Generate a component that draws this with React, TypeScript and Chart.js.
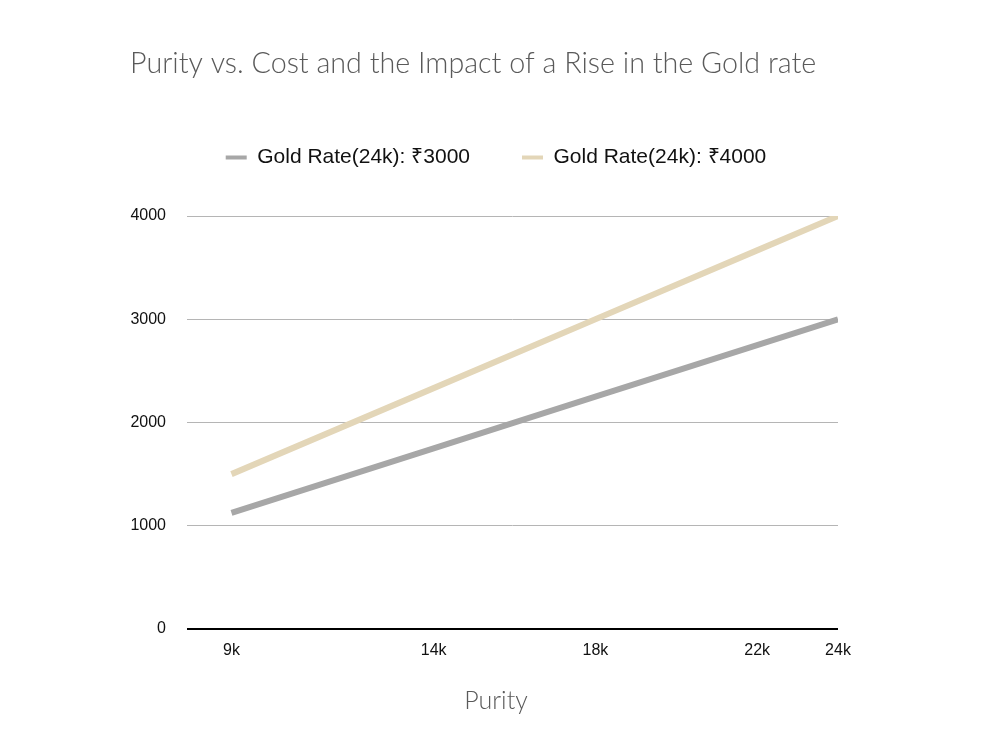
import React, { useEffect, useRef } from "react";
import { Chart, registerables } from "chart.js";

Chart.register(...registerables);

const purity = [9, 14, 18, 22, 24];
const tickLabels = ["9k", "14k", "18k", "22k", "24k"];
const rate3000 = [1125, 1750, 2250, 2750, 3000];
const rate4000 = [1500, 2333, 3000, 3667, 4000];
const seriesNames = ["Gold Rate(24k): ₹3000", "Gold Rate(24k): ₹4000"];
const titleText = "Purity vs. Cost and the Impact of a Rise in the Gold rate";
const xTitle = "Purity";

const textPlugin = {
  id: "customText",
  beforeLayout(chart: any) {
    const lg = chart.legend;
    if (lg && !lg._patched) {
      const orig = lg.fit;
      lg.fit = function () {
        orig.call(this);
        this.height += 38;
      };
      lg._patched = true;
    }
  },
  afterLayout(chart: any) {
    const lg = chart.legend;
    if (lg) {
      const shift = 496 - (lg.left + lg.right) / 2;
      lg.left += shift;
      lg.right += shift;
    }
  },
  afterDraw(chart: any) {
    const ctx = chart.ctx;
    ctx.save();
    ctx.font = "300 28.7px Lato";
    ctx.fillStyle = "#5a5a5a";
    ctx.textAlign = "left";
    ctx.textBaseline = "alphabetic";
    ctx.fillText(titleText, 130, 73);
    ctx.font = "300 25px Lato";
    ctx.textAlign = "center";
    ctx.fillText(xTitle, 496, 709);
    ctx.restore();
  },
};

export default function App() {
  const ref = useRef<HTMLCanvasElement>(null);
  useEffect(() => {
    if (!ref.current) return;
    const chart = new Chart(ref.current, {
      type: "line",
      data: {
        datasets: [
          {
            label: seriesNames[0],
            data: purity.map((x, i) => ({ x, y: rate3000[i] })),
            borderColor: "#a7a7a7",
            backgroundColor: "#a7a7a7",
            borderWidth: 6,
            pointRadius: 0,
            tension: 0,
          },
          {
            label: seriesNames[1],
            data: purity.map((x, i) => ({ x, y: rate4000[i] })),
            borderColor: "#e3d6b8",
            backgroundColor: "#e3d6b8",
            borderWidth: 6,
            pointRadius: 0,
            tension: 0,
          },
        ],
      },
      options: {
        animation: false,
        responsive: false,
        layout: { padding: { top: 95, right: 162, left: 0, bottom: 0 } },
        plugins: {
          title: { display: false },
          tooltip: { enabled: false },
          legend: {
            display: true,
            labels: {
              boxWidth: 21,
              boxHeight: 4,
              padding: 52,
              color: "#111",
              font: { family: "Liberation Sans", size: 21 },
              generateLabels(chart: any) {
                const items = Chart.defaults.plugins.legend.labels.generateLabels(chart);
                return items.map((it: any) => ({ ...it, lineWidth: 0 }));
              },
            },
          },
        },
        scales: {
          x: {
            type: "linear",
            min: 7.9,
            max: 24,
            afterBuildTicks(scale: any) {
              scale.ticks = purity.map((v) => ({ value: v }));
            },
            afterFit(scale: any) {
              scale.height = 109;
            },
            grid: { display: false, drawTicks: false },
            border: { display: false },
            ticks: {
              padding: 12,
              color: "#111",
              font: { family: "Liberation Sans", size: 16 },
              maxRotation: 0,
              autoSkip: false,
              callback: (v: any) => {
                const i = purity.indexOf(Number(v));
                return i >= 0 ? tickLabels[i] : "";
              },
            },
          },
          y: {
            min: 0,
            max: 4000,
            afterFit(scale: any) {
              scale.width = 187;
            },
            border: { display: false },
            grid: {
              drawTicks: false,
              color: (c: any) => (c.tick && c.tick.value === 0 ? "#000" : "#b5b5b5"),
              lineWidth: (c: any) => (c.tick && c.tick.value === 0 ? 2 : 1),
            },
            ticks: {
              stepSize: 1000,
              padding: 21,
              color: "#111",
              font: { family: "Liberation Sans", size: 16 },
              callback: (v: any) => String(v),
            },
          },
        },
      },
      plugins: [textPlugin],
    });
    return () => chart.destroy();
  }, []);
  return (
    <div style={{ position: "fixed", left: 0, top: 0, width: 1000, height: 738, background: "#fff" }}>
      <canvas ref={ref} width={1000} height={738} />
    </div>
  );
}
